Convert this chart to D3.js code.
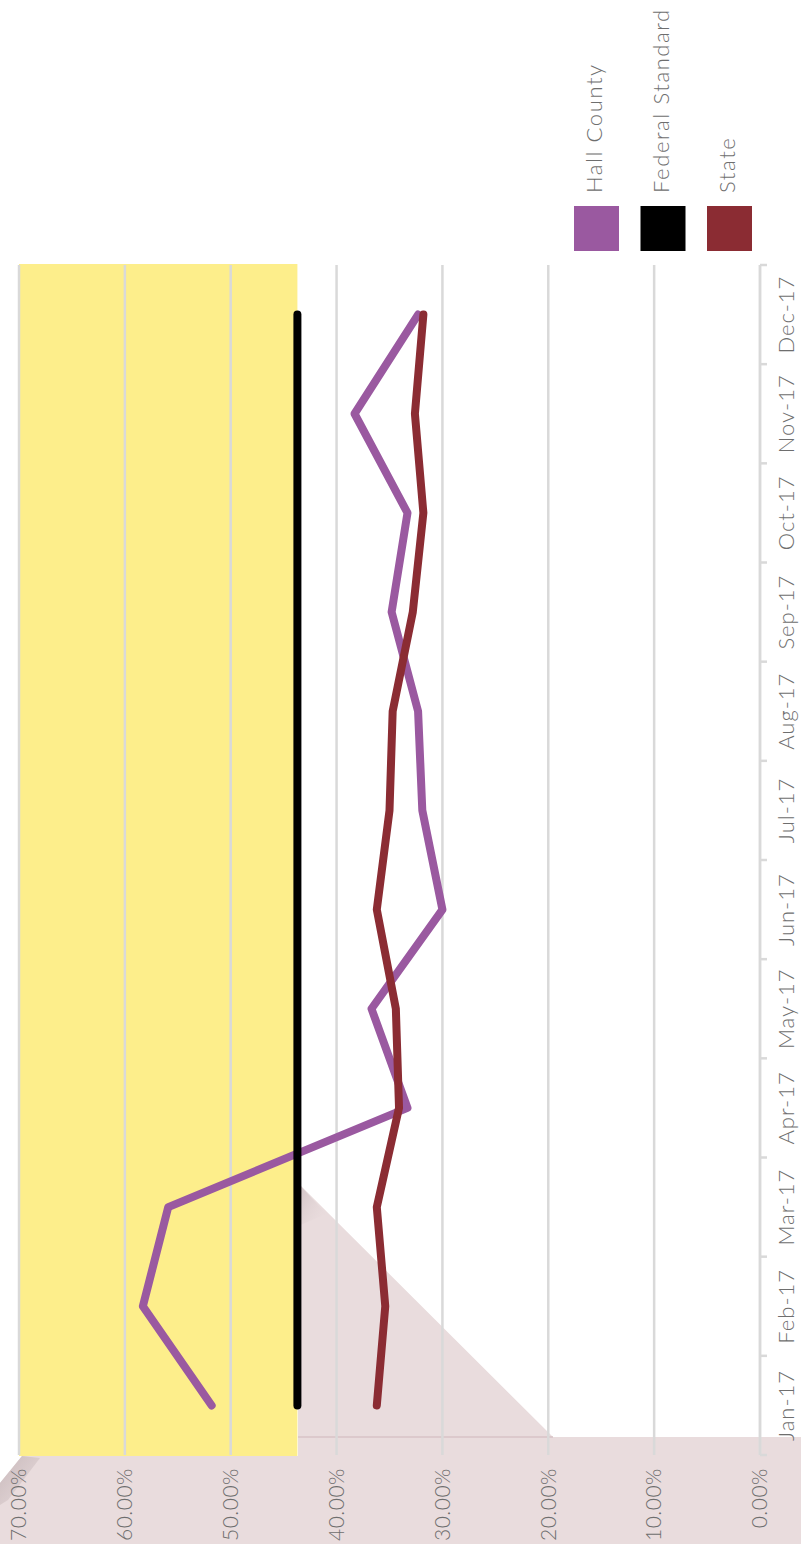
<!DOCTYPE html>
<html>
<head>
<meta charset="utf-8">
<script src="https://cdn.jsdelivr.net/npm/d3@7"></script>
<style>
  body { margin: 0; background: #fff; }
  svg { display: block; font-family: Lato, "Open Sans", sans-serif; font-weight: 300; }
</style>
</head>
<body>
<div id="svg-container"></div>
<script>
////////////////////////////////////////////////////////////////////
////////////////////////////  Data  ////////////////////////////////
const months = ["Jan-17", "Feb-17", "Mar-17", "Apr-17", "May-17", "Jun-17",
                "Jul-17", "Aug-17", "Sep-17", "Oct-17", "Nov-17", "Dec-17"];
const hallCounty = [51.8, 58.3, 55.9, 33.3, 36.7, 30.0, 31.9, 32.3, 34.8, 33.3, 38.3, 32.3];
const stateRate = [36.2, 35.4, 36.2, 34.1, 34.4, 36.2, 35.0, 34.7, 32.8, 31.8, 32.6, 31.8];
const federalStandard = [43.7, 43.7, 43.7, 43.7, 43.7, 43.7, 43.7, 43.7, 43.7, 43.7, 43.7, 43.7];
const valueTicks = [0, 10, 20, 30, 40, 50, 60, 70];
const seriesNames = ["Hall County", "Federal Standard", "State"];
const seriesColors = ["#9a59a0", "#000000", "#8b2c33"];

////////////////////////////////////////////////////////////////////
////////////////////////////  Init  ////////////////////////////////
const W = 801, H = 1544;
const svg = d3.select("#svg-container").append("svg")
  .attr("width", W).attr("height", H);

const defs = svg.append("defs");
const g1 = defs.append("linearGradient").attr("id", "fold")
  .attr("x1", 0).attr("y1", 0).attr("x2", 1).attr("y2", 1);
g1.append("stop").attr("offset", "0%").attr("stop-color", "#cdbfc1");
g1.append("stop").attr("offset", "100%").attr("stop-color", "#e9dcdd").attr("stop-opacity", 0);
const g2 = defs.append("linearGradient").attr("id", "corner")
  .attr("x1", 0).attr("y1", 0).attr("x2", 1).attr("y2", 1);
g2.append("stop").attr("offset", "0%").attr("stop-color", "#c9babc");
g2.append("stop").attr("offset", "100%").attr("stop-color", "#e9dcdd");

// background paper fold (screen coords)
svg.append("polygon")
  .attr("points", [[0,1483],[22,1456],[298,1456],[298,1183],[553,1437],[801,1437],[801,1544],[0,1544]].join(" "))
  .attr("fill", "#e9dcdd");
svg.append("polygon")
  .attr("points", [[298,1183],[326,1214],[298,1226]].join(" "))
  .attr("fill", "url(#fold)");
svg.append("polygon")
  .attr("points", [[0,1483],[22,1456],[40,1458],[8,1500],[0,1505]].join(" "))
  .attr("fill", "url(#corner)");
svg.append("line")
  .attr("x1", 298).attr("x2", 553).attr("y1", 1437).attr("y2", 1437)
  .attr("stroke", "#d7c3c6").attr("stroke-width", 1.5);

// chart is drawn lying on its side
const g = svg.append("g").attr("transform", `translate(0,${H}) rotate(-90)`);

// scales
const xScale = d3.scaleBand().domain(months).range([89, 1279]);
const yScale = d3.scaleLinear().domain([0, 70]).range([760, 19]);
const xc = (d) => xScale(d) + xScale.bandwidth() / 2;

// target zone
g.append("rect")
  .attr("x", 88)
  .attr("y", yScale(70))
  .attr("width", 1280 - 88)
  .attr("height", yScale(federalStandard[0]) - yScale(70))
  .attr("fill", "#fdee8b");

// gridlines
g.selectAll(".grid")
  .data(valueTicks)
  .enter()
  .append("line")
  .attr("x1", 89).attr("x2", 1279)
  .attr("y1", (d) => yScale(d)).attr("y2", (d) => yScale(d))
  .attr("stroke", "#d9d9d9").attr("stroke-width", 2.5);

// value axis labels
const yAxis = g.append("g")
  .attr("transform", "translate(76,0)")
  .call(d3.axisLeft(yScale).tickValues(valueTicks)
    .tickFormat((d) => d.toFixed(2) + "%").tickSize(0).tickPadding(0));
yAxis.select(".domain").remove();
yAxis.selectAll("text")
  .attr("fill", "#6e6e6e").attr("font-size", 21).attr("font-family", "Lato")
  .attr("letter-spacing", 0.5);

// month axis
const xAxis = g.append("g")
  .attr("transform", "translate(0,760)")
  .call(d3.axisBottom(xScale).tickSize(0).tickPadding(18));
xAxis.select(".domain").remove();
xAxis.selectAll("text")
  .attr("fill", "#6e6e6e").attr("font-size", 22).attr("font-family", "Lato")
  .attr("letter-spacing", 1);
g.append("line")
  .attr("x1", 89).attr("x2", 1279).attr("y1", 760).attr("y2", 760)
  .attr("stroke", "#d9d9d9").attr("stroke-width", 2.5);
g.selectAll(".mtick")
  .data(months.concat(["end"]))
  .enter()
  .append("line")
  .attr("x1", (d, i) => i < months.length ? xScale(d) : xScale(months[i - 1]) + xScale.bandwidth())
  .attr("x2", (d, i) => i < months.length ? xScale(d) : xScale(months[i - 1]) + xScale.bandwidth())
  .attr("y1", 760).attr("y2", 767)
  .attr("stroke", "#d9d9d9").attr("stroke-width", 2.5);

// lines
const line = d3.line().x((d, i) => xc(months[i])).y((d) => yScale(d));
[hallCounty, stateRate, federalStandard].forEach((s) => {
  const k = s === hallCounty ? 0 : s === stateRate ? 2 : 1;
  g.append("path")
    .datum(s)
    .attr("d", line)
    .attr("fill", "none")
    .attr("stroke", seriesColors[k])
    .attr("stroke-width", 8)
    .attr("stroke-linecap", "round")
    .attr("stroke-linejoin", "round");
});

// legend
const legend = g.selectAll(".legend")
  .data(seriesNames)
  .enter()
  .append("g")
  .attr("transform", (d, i) => `translate(1293,${574 + i * 66.5})`);
legend.append("rect")
  .attr("width", 45).attr("height", 45)
  .attr("fill", (d, i) => seriesColors[i]);
legend.append("text")
  .attr("x", 58).attr("y", 28)
  .attr("fill", "#6e6e6e").attr("font-size", 22).attr("letter-spacing", 1.6)
  .text((d) => d);
</script>
</body>
</html>
